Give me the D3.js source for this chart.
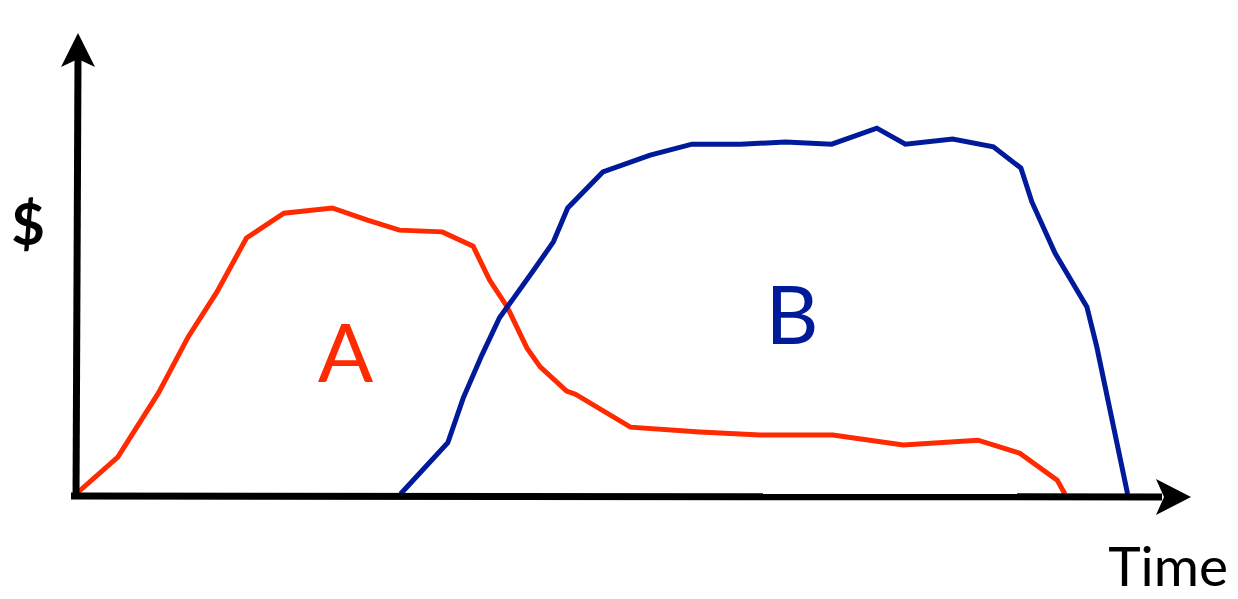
<!doctype html>
<html>
  <head>
  <script type="text/javascript" src="https://cdn.jsdelivr.net/npm/d3@7"></script>
  <style>
    body { margin: 0; background: #fff; }
    text { font-family: Lato, "Noto Sans", sans-serif; }
  </style>
</head>
  <body>
<svg width="1238" height="599"></svg>
<script type="text/javascript">
// product A revenue over time
var timeA = [0, 3.8, 7.5, 10.2, 12.8, 15.5, 18.9, 23.3, 26.5, 29.4, 33.3, 36.1, 37.6, 39.2, 41.0, 42.2, 44.6, 45.4, 50.4, 56.7, 62.2, 68.8, 75.2, 82.0, 85.8, 89.2, 89.9];
var valueA = [0, 8.5, 23.3, 36.2, 46.5, 59.0, 64.7, 65.9, 63.1, 60.8, 60.4, 57.1, 49.3, 43.1, 33.6, 29.3, 23.7, 23.0, 15.4, 14.3, 13.6, 13.6, 11.3, 12.4, 9.4, 3.2, 0];
// product B revenue over time
var timeB = [29.5, 33.8, 35.2, 36.9, 38.5, 41.5, 43.4, 44.7, 47.9, 52.2, 56.0, 60.4, 64.5, 68.7, 72.8, 75.4, 79.7, 83.4, 85.9, 86.9, 89.0, 91.9, 92.8, 95.6];
var valueB = [0, 11.8, 22.1, 32.0, 40.6, 51.2, 58.1, 65.9, 74.2, 78.1, 80.6, 80.6, 81.1, 80.6, 84.3, 80.6, 81.8, 80.0, 75.1, 67.3, 55.5, 43.1, 33.9, 0];

var series = [
  {name: "A", t: timeA, v: valueA, color: "#ff2a00", lx: 24.5, ly: 25.8},
  {name: "B", t: timeB, v: valueB, color: "#001a99", lx: 65.1, ly: 34.6}
];

var svg = d3.select("svg");
var x = d3.scaleLinear().domain([0, 100]).range([76, 1176]);
var y = d3.scaleLinear().domain([0, 100]).range([494, 60]);

var line = d3.line()
  .x(d => x(d[0]))
  .y(d => y(d[1]));

series.forEach(s => {
  var pts = s.t.map((t, i) => [t, s.v[i]]);
  svg.append("path")
    .datum(pts)
    .attr("d", line)
    .style("fill", "none")
    .style("stroke", s.color)
    .style("stroke-width", 5)
    .style("stroke-linejoin", "miter");
  svg.append("text")
    .attr("x", x(s.lx))
    .attr("y", y(s.ly))
    .attr("text-anchor", "middle")
    .style("font-size", "82px")
    .style("fill", s.color)
    .text(s.name);
});

// axes with arrow heads
var x0 = x(0), y0 = y(0) + 2;
svg.append("line")
  .attr("x1", x0 - 5).attr("y1", y0)
  .attr("x2", 1162).attr("y2", y0 + 1)
  .style("stroke", "#000").style("stroke-width", 7);
svg.append("path")
  .attr("d", "M1191," + (y0 + 1) + "L1156," + (y0 - 17) + "L1164," + (y0 + 1) + "L1156," + (y0 + 19) + "Z")
  .style("fill", "#000");

svg.append("line")
  .attr("x1", x0).attr("y1", y0 + 3)
  .attr("x2", x0 + 2).attr("y2", 58)
  .style("stroke", "#000").style("stroke-width", 7);
svg.append("path")
  .attr("d", "M" + (x0 + 2) + ",33L" + (x0 + 19) + ",67L" + (x0 + 2) + ",59L" + (x0 - 15) + ",67Z")
  .style("fill", "#000");

svg.append("text")
  .attr("x", 28).attr("y", 245)
  .attr("text-anchor", "middle")
  .style("font-size", "58px")
  .style("font-weight", "bold")
  .text("$");

svg.append("text")
  .attr("x", 1228).attr("y", 586)
  .attr("text-anchor", "end")
  .style("font-size", "55px")
  .text("Time");
</script>
</body>
</html>
